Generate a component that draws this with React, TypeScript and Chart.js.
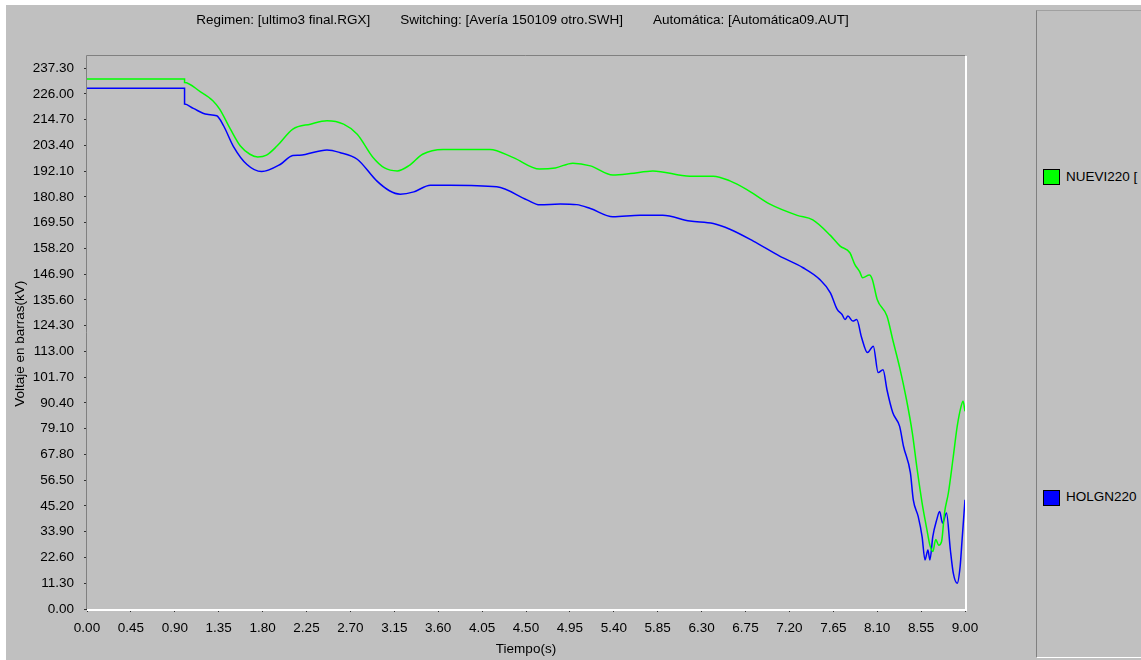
import React, { useEffect, useRef } from "react";
import { Chart, registerables } from "chart.js";

Chart.register(...registerables);

const TITLE_PARTS = [
  "Regimen: [ultimo3 final.RGX]",
  "Switching: [Avería 150109 otro.SWH]",
  "Automática: [Automática09.AUT]",
];
const X_TITLE = "Tiempo(s)";
const Y_TITLE = "Voltaje en barras(kV)";
const LEGEND_LABELS = ["NUEVI220 [", "HOLGN220"];

const X_TICKS = [0, 0.45, 0.9, 1.35, 1.8, 2.25, 2.7, 3.15, 3.6, 4.05, 4.5, 4.95, 5.4, 5.85, 6.3, 6.75, 7.2, 7.65, 8.1, 8.55, 9.0];
const Y_TICKS = [0, 11.3, 22.6, 33.9, 45.2, 56.5, 67.8, 79.1, 90.4, 101.7, 113.0, 124.3, 135.6, 146.9, 158.2, 169.5, 180.8, 192.1, 203.4, 214.7, 226.0, 237.3];

const NUEVI_T = [0, 1.0, 1.0, 1.16, 1.29, 1.36, 1.47, 1.57, 1.67, 1.75, 1.84, 1.95, 2.11, 2.29, 2.46, 2.63, 2.77, 2.93, 3.05, 3.18, 3.3, 3.44, 3.65, 4.13, 4.37, 4.64, 4.8, 4.98, 5.16, 5.39, 5.57, 5.8, 6.18, 6.42, 6.59, 6.76, 7.0, 7.28, 7.44, 7.62, 7.72, 7.82, 7.87, 7.92, 7.95, 8.02, 8.05, 8.1, 8.2, 8.26, 8.33, 8.4, 8.46, 8.51, 8.56, 8.61, 8.64, 8.67, 8.7, 8.73, 8.76, 8.79, 8.83, 8.88, 8.92, 8.96, 8.98, 9.0];
const NUEVI_V = [232.5, 232.5, 231.0, 227.0, 223.0, 219.3, 210.5, 203.2, 199.5, 198.3, 199.1, 203.2, 210.5, 212.7, 214.2, 212.7, 208.3, 198.2, 193.5, 192.2, 194.5, 199.5, 201.6, 201.6, 198.0, 193.0, 193.5, 195.6, 194.4, 190.4, 191.0, 192.2, 189.9, 189.9, 187.8, 184.1, 177.6, 172.7, 170.7, 163.9, 159.2, 156.3, 151.2, 148.0, 145.3, 146.5, 144.6, 135.8, 128.5, 118.0, 106.0, 91.9, 77.3, 61.1, 46.6, 34.7, 28.0, 25.2, 30.5, 28.0, 29.6, 42.2, 51.0, 66.9, 80.1, 88.9, 91.1, 86.7];

const HOLGN_T = [0, 1.0, 1.0, 1.09, 1.23, 1.33, 1.4, 1.5, 1.64, 1.79, 1.98, 2.11, 2.18, 2.46, 2.59, 2.77, 2.97, 3.1, 3.21, 3.35, 3.52, 3.72, 4.2, 4.51, 4.64, 4.85, 5.02, 5.16, 5.39, 5.67, 5.9, 6.18, 6.42, 6.59, 6.83, 7.1, 7.34, 7.51, 7.62, 7.69, 7.74, 7.77, 7.8, 7.85, 7.89, 7.94, 8.0, 8.06, 8.11, 8.16, 8.2, 8.26, 8.33, 8.37, 8.44, 8.47, 8.52, 8.56, 8.59, 8.62, 8.64, 8.67, 8.71, 8.74, 8.77, 8.81, 8.85, 8.88, 8.92, 8.95, 8.97, 9.0];
const HOLGN_V = [228.5, 228.5, 221.5, 219.6, 217.0, 216.4, 212.0, 203.0, 195.0, 191.9, 195.0, 199.0, 199.1, 201.4, 200.3, 197.3, 187.8, 183.5, 182.0, 183.0, 185.9, 185.9, 185.2, 179.5, 177.3, 177.7, 177.4, 175.7, 172.1, 172.7, 172.7, 170.2, 169.1, 166.6, 161.4, 154.8, 149.7, 144.6, 138.7, 131.4, 129.2, 127.0, 128.5, 126.3, 127.0, 119.1, 112.5, 115.3, 103.7, 105.0, 96.2, 86.1, 80.1, 71.3, 59.8, 47.9, 40.6, 31.8, 21.5, 25.9, 21.5, 31.8, 39.1, 42.8, 37.7, 42.1, 25.9, 15.7, 11.3, 18.6, 30.3, 47.9];

const FONT_FAMILY = '"Liberation Sans", Arial, sans-serif';
const FONT_SIZE = 13.5;
const GREEN = "#00ff00";
const BLUE = "#0000ff";

const framePlugin = {
  id: "frame",
  beforeDatasetsDraw(chart: any) {
    const { ctx, chartArea } = chart;
    const { left, right, top, bottom } = chartArea;
    ctx.save();
    ctx.lineWidth = 2;
    ctx.strokeStyle = "#ffffff";
    ctx.beginPath();
    ctx.moveTo(left, bottom + 1);
    ctx.lineTo(right + 1, bottom + 1);
    ctx.lineTo(right + 1, top);
    ctx.stroke();
    ctx.lineWidth = 1;
    ctx.strokeStyle = "#808080";
    ctx.beginPath();
    ctx.moveTo(left - 0.5, bottom);
    ctx.lineTo(left - 0.5, top - 0.5);
    ctx.lineTo(right, top - 0.5);
    ctx.stroke();
    ctx.restore();
  },
};

export default function App() {
  const canvasRef = useRef<HTMLCanvasElement | null>(null);

  useEffect(() => {
    if (!canvasRef.current) return;
    const font = { family: FONT_FAMILY, size: FONT_SIZE, weight: "normal" as const };
    const chart = new Chart(canvasRef.current, {
      type: "line",
      data: {
        datasets: [
          {
            label: "NUEVI220",
            data: NUEVI_T.map((t, i) => ({ x: t, y: NUEVI_V[i] })),
            borderColor: GREEN,
            backgroundColor: GREEN,
            borderWidth: 1.5,
            pointRadius: 0,
            cubicInterpolationMode: "monotone",
            fill: false,
          },
          {
            label: "HOLGN220",
            data: HOLGN_T.map((t, i) => ({ x: t, y: HOLGN_V[i] })),
            borderColor: BLUE,
            backgroundColor: BLUE,
            borderWidth: 1.5,
            pointRadius: 0,
            cubicInterpolationMode: "monotone",
            fill: false,
          },
        ],
      },
      options: {
        animation: false,
        responsive: false,
        events: [],
        layout: { padding: { top: 0, right: 0, bottom: 0, left: 3 } },
        plugins: {
          legend: { display: false },
          tooltip: { enabled: false },
          title: {
            display: true,
            text: TITLE_PARTS.join("        "),
            color: "#000000",
            font,
            padding: { top: 7.4, bottom: 27.4 },
          },
        },
        scales: {
          x: {
            type: "linear",
            min: 0,
            max: 9,
            afterBuildTicks: (scale: any) => {
              scale.ticks = X_TICKS.map((v) => ({ value: v }));
            },
            afterFit: (scale: any) => {
              scale.height = 51;
            },
            border: { display: false },
            grid: { drawOnChartArea: false, drawTicks: true, tickLength: 3, color: "#303030" },
            ticks: {
              color: "#000000",
              font,
              padding: 8,
              maxRotation: 0,
              autoSkip: false,
              callback: (v: any) => Number(v).toFixed(2),
            },
            title: { display: true, text: X_TITLE, color: "#000000", font, padding: { top: 0, bottom: 3 } },
          },
          y: {
            type: "linear",
            position: "left",
            min: 0,
            max: 242.6,
            afterBuildTicks: (scale: any) => {
              scale.ticks = Y_TICKS.map((v) => ({ value: v }));
            },
            afterFit: (scale: any) => {
              scale.width = 78;
            },
            border: { display: false },
            grid: { drawOnChartArea: false, drawTicks: true, tickLength: 3, color: "#303030" },
            ticks: {
              color: "#000000",
              font,
              padding: 10,
              autoSkip: false,
              callback: (v: any) => Number(v).toFixed(2),
            },
            title: { display: true, text: Y_TITLE + "      ", color: "#000000", font, padding: { top: 3, bottom: 0 } },
          },
          yRight: {
            type: "linear",
            position: "right",
            min: 0,
            max: 242.6,
            afterFit: (scale: any) => {
              scale.width = 71;
            },
            border: { display: false },
            grid: { display: false, drawTicks: false },
            ticks: { display: false },
          },
        },
      },
      plugins: [framePlugin],
    });
    return () => chart.destroy();
  }, []);

  const textStyle: React.CSSProperties = {
    position: "absolute",
    fontFamily: FONT_FAMILY,
    fontSize: FONT_SIZE,
    lineHeight: "16px",
    color: "#000",
    whiteSpace: "pre",
  };

  return (
    <div
      style={{
        position: "absolute",
        left: 6,
        top: 5,
        width: 1135,
        height: 655,
        background: "#c0c0c0",
        overflow: "hidden",
      }}
    >
      <canvas ref={canvasRef} width={1030} height={655} style={{ position: "absolute", left: 0, top: 0 }} />
      <div
        style={{
          position: "absolute",
          left: 1030,
          top: 5,
          width: 140,
          height: 646,
          borderLeft: "1px solid #808080",
          borderTop: "1px solid #a0a0a0",
          borderBottom: "1px solid #ffffff",
        }}
      />
      <div style={{ position: "absolute", left: 1037, top: 164, width: 15, height: 14, background: GREEN, border: "1px solid #000" }} />
      <div style={{ ...textStyle, left: 1060, top: 164 }}>{LEGEND_LABELS[0]}</div>
      <div style={{ position: "absolute", left: 1037, top: 485, width: 15, height: 14, background: BLUE, border: "1px solid #000" }} />
      <div style={{ ...textStyle, left: 1060, top: 484 }}>{LEGEND_LABELS[1]}</div>
    </div>
  );
}
